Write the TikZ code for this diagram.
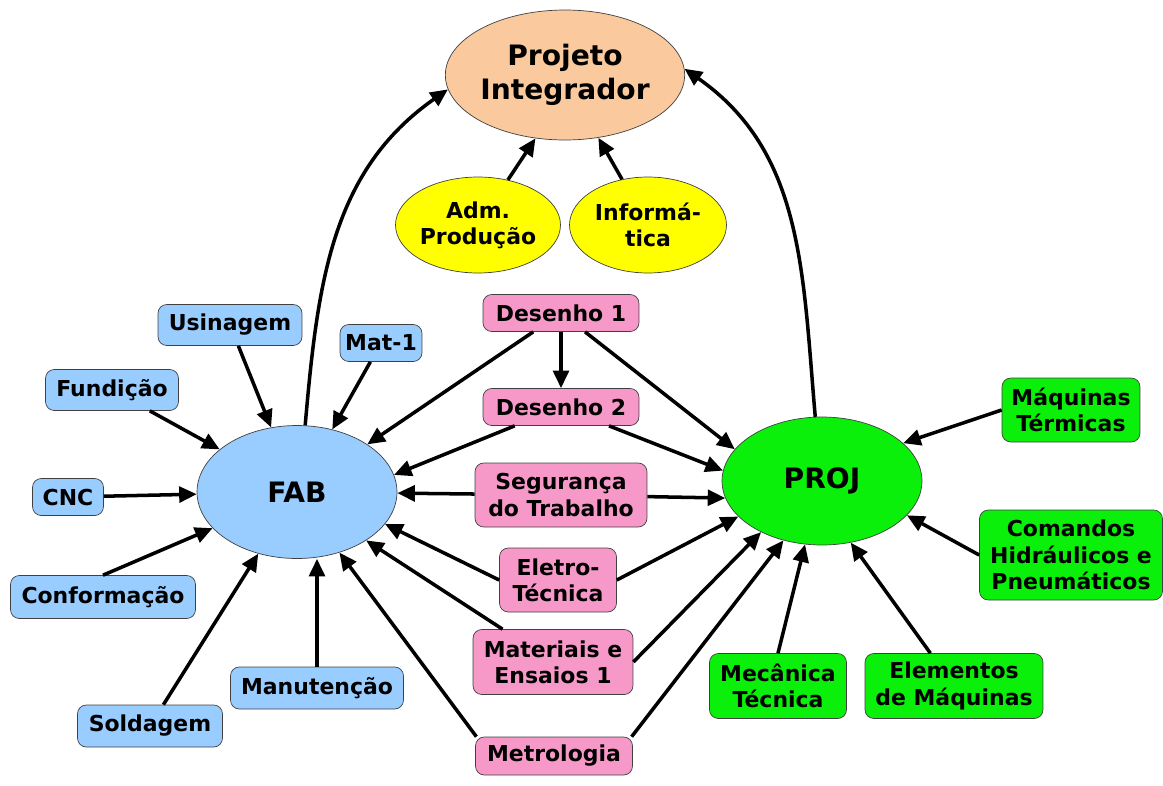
\documentclass[tikz,border=0pt]{standalone}
\usepackage{fontspec}
\setmainfont{DejaVu Sans}
\usetikzlibrary{shapes,arrows.meta}

\definecolor{fabblue}{HTML}{99CCFF}
\definecolor{tcpink}{HTML}{F799C8}
\definecolor{projgreen}{RGB}{10,240,10}
\definecolor{peach}{HTML}{FACA9E}
\definecolor{tcyellow}{HTML}{FFFF00}

\begin{document}
\begin{tikzpicture}[x=0.02cm, y=-0.02cm,
        box/.style={draw=black!75, rounded corners=5pt, inner sep=0pt, align=center,
                    font=\fontsize{12.5}{15}\selectfont\bfseries},
        fabbox/.style={box, fill=fabblue},
        basebox/.style={box, fill=tcpink},
        projbox/.style={box, fill=projgreen},
        oval/.style={ellipse, draw=black!75, inner sep=0pt, align=center,
                    font=\fontsize{12.5}{15}\selectfont\bfseries},
        bigoval/.style={oval, font=\fontsize{16}{19}\selectfont\bfseries},
        link/.style={-{Triangle[length=10pt,width=9pt]}, line width=2pt}]
    \useasboundingbox (0,0) rectangle (1163,785);

    % top
    \node[bigoval, fill=peach, minimum width=4.7cm, minimum height=2.6cm] (pi) at (565,75) {Projeto\\Integrador};
    \node[oval, fill=tcyellow, minimum width=3.3cm, minimum height=1.92cm] (adm) at (478,225) {Adm.\\Produção};
    \node[oval, fill=tcyellow, minimum width=3.14cm, minimum height=1.92cm] (info) at (648,225) {Informá-\\tica};

    % the two groups
    \node[bigoval, fill=fabblue, minimum width=4cm, minimum height=2.66cm] (fab) at (297,492) {FAB};
    \node[bigoval, fill=projgreen, minimum width=4cm, minimum height=2.56cm] (proj) at (822,481) {PROJ};

    % FAB subjects
    \node[fabbox, minimum width=2.88cm, minimum height=0.82cm] (usin) at (230,325) {Usinagem};
    \node[fabbox, minimum width=1.64cm, minimum height=0.74cm] (mat)  at (381,343) {Mat-1};
    \node[fabbox, minimum width=2.66cm, minimum height=0.82cm] (fund) at (112,390) {Fundição};
    \node[fabbox, minimum width=1.42cm, minimum height=0.74cm] (cnc)  at (68,497)  {CNC};
    \node[fabbox, minimum width=3.7cm,  minimum height=0.86cm] (conf) at (103,597) {Conformação};
    \node[fabbox, minimum width=3.46cm, minimum height=0.84cm] (mant) at (317,688) {Manutenção};
    \node[fabbox, minimum width=2.9cm,  minimum height=0.84cm] (sold) at (150,726) {Soldagem};

    % common subjects
    \node[basebox, minimum width=3.12cm, minimum height=0.74cm] (des1)   at (561,313) {Desenho 1};
    \node[basebox, minimum width=3.12cm, minimum height=0.74cm] (des2)   at (561,407) {Desenho 2};
    \node[basebox, minimum width=3.44cm, minimum height=1.28cm] (seg)    at (561,495) {Segurança\\do Trabalho};
    \node[basebox, minimum width=2.34cm, minimum height=1.28cm] (eletro) at (558,580) {Eletro-\\Técnica};
    \node[basebox, minimum width=3.2cm,  minimum height=1.3cm]  (mater)  at (553,662) {Materiais e\\Ensaios 1};
    \node[basebox, minimum width=3.14cm, minimum height=0.76cm] (metro)  at (554,756) {Metrologia};

    % PROJ subjects
    \node[projbox, minimum width=2.76cm, minimum height=1.28cm] (maq)  at (1071,410) {Máquinas\\Térmicas};
    \node[projbox, minimum width=3.66cm, minimum height=1.8cm]  (cmd)  at (1071,555) {Comandos\\Hidráulicos e\\Pneumáticos};
    \node[projbox, minimum width=2.74cm, minimum height=1.3cm]  (mec)  at (778,686)  {Mecânica\\Técnica};
    \node[projbox, minimum width=3.56cm, minimum height=1.3cm]  (elem) at (954,686)  {Elementos\\de Máquinas};

    \draw[link] (fab.83) to[out=85, in=215] (pi.187);
    \draw[link] (proj.96) to[out=95, in=-35] (pi.3);
    \draw[link] (adm) -- (pi.-115);
    \draw[link] (info) -- (pi.-62);

    \draw[link] (usin) -- (fab);
    \draw[link] (mat) -- (fab);
    \draw[link] (fund) -- (fab);
    \draw[link] (cnc) -- (fab);
    \draw[link] (conf.north) -- (fab);
    \draw[link] (sold) -- (fab);
    \draw[link] (mant.north) -- (mant.north |- fab.south);

    \draw[link] (des1) -- (des2);
    \draw[link] (des1) -- (fab);
    \draw[link] (des1) -- (proj.160);
    \draw[link] (des2) -- (fab.10);
    \draw[link] (des2) -- (proj.174);
    \draw[link] (seg) -- (fab);
    \draw[link] (seg) -- (proj.190);
    \draw[link] (eletro.west) -- (fab.-20);
    \draw[link] (eletro.east) -- (proj.203);
    \draw[link] (mater) -- (fab.-35);
    \draw[link] (mater.east) -- (proj.220);
    \draw[link] (metro.166) -- (fab.-55);
    \draw[link] (metro.14) -- (proj.237);

    \draw[link] (maq.west) -- (proj.25);
    \draw[link] (cmd.west) -- (proj.-22);
    \draw[link] (mec.north) -- (proj.-105);
    \draw[link] (elem) -- (proj.-65);
\end{tikzpicture}
\end{document}
